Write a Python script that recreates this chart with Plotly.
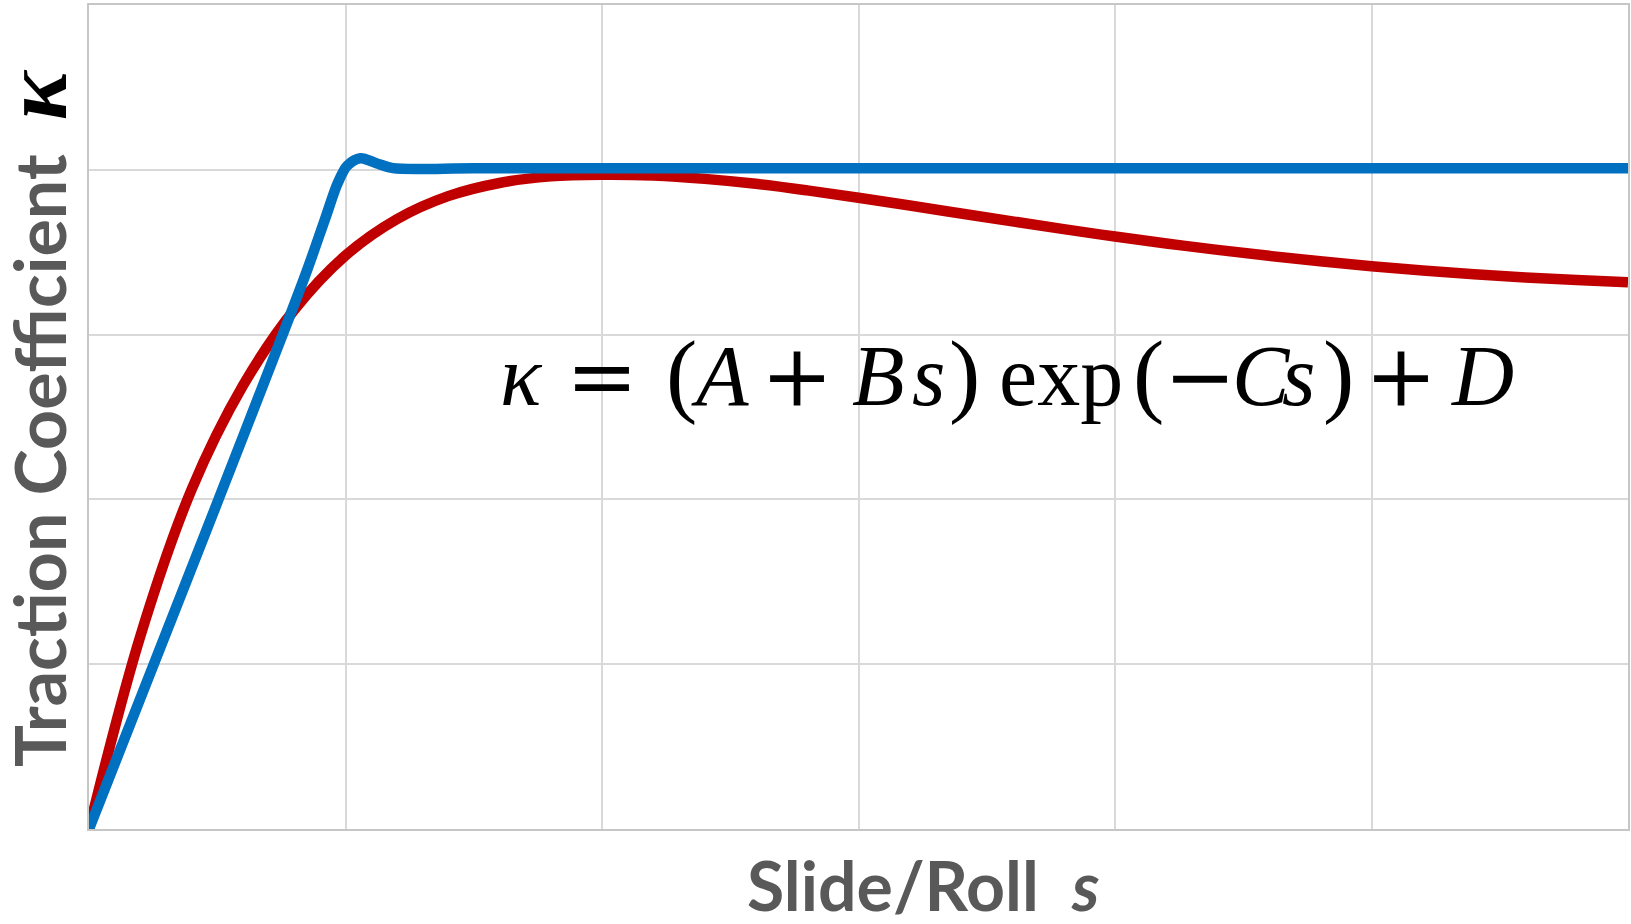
import plotly.graph_objects as go

# Slide/roll ratio s and traction coefficient kappa
red_s = [0, 0.2, 0.4, 0.6, 0.8, 1.0, 1.2, 1.4, 1.6, 1.8, 2.0, 2.2, 2.4, 2.6, 2.8,
         3.0, 3.2, 3.4, 3.6, 3.8, 4.0, 4.2, 4.4, 4.6, 4.8, 5.0, 5.2, 5.4, 5.6, 5.8, 6.0]
red_k = [0, 1.17, 2.06, 2.69, 3.15, 3.48, 3.70, 3.84, 3.92, 3.96, 3.97, 3.965, 3.945,
         3.915, 3.875, 3.83, 3.783, 3.735, 3.687, 3.64, 3.595, 3.553, 3.514, 3.478,
         3.445, 3.415, 3.389, 3.366, 3.347, 3.331, 3.317]

blue_s = [0, 0.25, 0.5, 0.75, 0.85, 0.92, 0.97, 1.007, 1.058, 1.12, 1.185, 1.5,
          2, 3, 4, 5, 6]
blue_k = [0, 0.99, 1.98, 2.98, 3.39, 3.70, 3.92, 4.025, 4.07, 4.04, 4.01, 4.01,
          4.01, 4.01, 4.01, 4.01, 4.01]

# Formula pieces: text, horizontal centre (px), font family, size
formula_tokens = ["<i>κ</i>", "=", "(", "<i>A</i>", "+", "<i>B</i>", "<i>s</i>", ")",
                  "exp", "(", "−", "<i>C</i>", "<i>s</i>", ")", "+", "<i>D</i>"]
formula_x_px = [522, 603, 682, 721, 798, 880, 930, 966,
                1062, 1150, 1201, 1263, 1300, 1340, 1403, 1484]
SERIF, OPS = "Liberation Serif", "DejaVu Serif"
formula_fonts = [SERIF, OPS, SERIF, SERIF, OPS, SERIF, SERIF, SERIF,
                 SERIF, SERIF, OPS, SERIF, SERIF, SERIF, OPS, SERIF]
formula_sizes = [86, 86, 94, 86, 86, 86, 86, 94, 86, 94, 86, 86, 86, 94, 86, 86]
FORMULA_BASELINE = 408

W, H = 1631, 924
L, R, T, B = 89, 1, 5, 95
PW, PH = W - L - R, H - T - B


def paper(px, py):
    return (px - L) / PW, (H - B - py) / PH


GRID = "#D9D9D9"
AXIS = "#C6C6C6"
GRAY = "#595959"

fig = go.Figure()
fig.add_trace(go.Scatter(x=red_s, y=red_k, mode="lines",
                         line=dict(color="#C00000", width=10.5, shape="spline", smoothing=1.0),
                         hoverinfo="skip"))
fig.add_trace(go.Scatter(x=blue_s, y=blue_k, mode="lines",
                         line=dict(color="#0070C0", width=10.5, shape="spline", smoothing=0.9),
                         hoverinfo="skip"))

annotations = []
for tok, px, fam, size in zip(formula_tokens, formula_x_px, formula_fonts, formula_sizes):
    ax, ay = paper(px, FORMULA_BASELINE - 0.372 * size)
    annotations.append(dict(text=tok, x=ax, y=ay, xref="paper", yref="paper",
                            xanchor="center", yanchor="middle", showarrow=False,
                            font=dict(family=fam, size=size, color="#000000")))

ax, ay = paper(925, 884)
annotations.append(dict(text="<b>Slide/Roll  <i>s</i></b>", x=ax, y=ay,
                        xref="paper", yref="paper", xanchor="center", yanchor="middle",
                        showarrow=False, font=dict(family="Lato", size=68, color=GRAY)))

ax, ay = paper(35, 418)
annotations.append(dict(
    text=("<b>Traction Coefficient  </b>"
          "<span style='font-family:Liberation Serif;color:#000000;font-size:92px'>"
          "<b><i>κ</i></b></span>"),
    x=ax, y=ay, xref="paper", yref="paper", xanchor="center", yanchor="middle",
    textangle=-90, showarrow=False, font=dict(family="Lato", size=70, color=GRAY)))

fig.update_layout(
    width=W, height=H,
    margin=dict(l=L, r=R, t=T, b=B, pad=0),
    paper_bgcolor="white", plot_bgcolor="white",
    showlegend=False,
    annotations=annotations,
    xaxis=dict(range=[0, 6], dtick=1, tick0=0, showticklabels=False, ticks="",
               showgrid=True, gridcolor=GRID, gridwidth=2, zeroline=False,
               showline=True, linecolor=AXIS, linewidth=2, mirror=True, fixedrange=True),
    yaxis=dict(range=[0, 5], dtick=1, tick0=0, showticklabels=False, ticks="",
               showgrid=True, gridcolor=GRID, gridwidth=2, zeroline=False,
               showline=True, linecolor=AXIS, linewidth=2, mirror=True, fixedrange=True),
)

fig.write_html("out.html", config={"displayModeBar": False})
